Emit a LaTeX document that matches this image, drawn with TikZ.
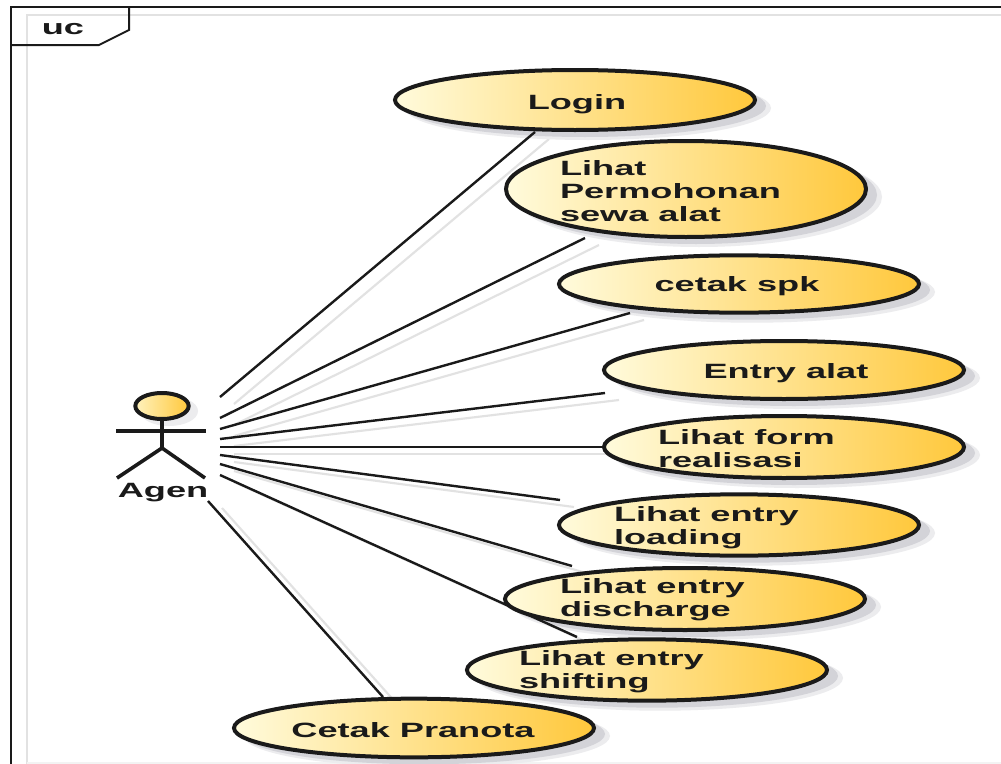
\documentclass[tikz,border=0pt]{standalone}
\usepackage{fontspec}
\usetikzlibrary{shapes.geometric}
\newfontfamily\ucfont[FakeStretch=1.75]{Liberation Sans}
\definecolor{ink}{HTML}{1A1A1A}
\definecolor{lightend}{HTML}{FFFBDC}
\definecolor{midend}{HTML}{FFE48E}
\definecolor{darkend}{HTML}{FFC83C}
\definecolor{shadowa}{HTML}{D3D3D8}
\definecolor{shadowb}{HTML}{ECECEE}
\definecolor{ghostc}{HTML}{E2E2E2}
\definecolor{faintc}{HTML}{F3F3F3}
\pgfdeclarelayer{back}
\pgfsetlayers{back,main}
\tikzset{
  usecase/.style={ellipse,draw=ink,line width=3pt,left color=lightend,middle color=midend,right color=darkend,
    minimum width=270pt,inner sep=0pt,outer sep=0pt},
  lab/.style={font=\ucfont\bfseries\fontsize{15.5}{17.3}\selectfont,text=ink,inner sep=0pt,outer sep=0pt,align=left},
  one/.style={lab,anchor=base,align=center},
  assoc/.style={draw=ink,line width=1.8pt},
  ghost/.style={draw=ghostc,line width=1.6pt},
  stick/.style={draw=ink,line width=2.7pt},
  frame/.style={draw=ink,line width=1.5pt},
  frameshade/.style={draw=ghostc,line width=1.5pt}
}
\begin{document}
\begin{tikzpicture}[x=0.75pt,y=-0.75pt]
\useasboundingbox (0,0) rectangle (1001,764);

% use cases
\node[usecase,minimum height=45pt] (login) at (575,100) {};
\node[usecase,minimum height=72pt] (perm) at (686,189) {};
\node[usecase,minimum height=43pt] (cetak) at (739,284) {};
\node[usecase,minimum height=43.5pt] (entry) at (784,370) {};
\node[usecase,minimum height=46.5pt] (form) at (784,447) {};
\node[usecase,minimum height=46pt] (loading) at (739,525) {};
\node[usecase,minimum height=46.5pt] (discharge) at (685,599) {};
\node[usecase,minimum height=46pt] (shifting) at (647,670) {};
\node[usecase,minimum height=44pt] (pranota) at (414,728) {};

% labels
\node[one] (tlogin) at (577,109) {Login};
\node[lab,anchor=west] (tperm) at (560,191) {Lihat\\Permohonan\\sewa alat};
\node[one] (tcetak) at (737,291) {cetak spk};
\node[one] (tentry) at (786,378) {Entry alat};
\node[lab,anchor=west] (tform) at (658,449) {Lihat form\\realisasi};
\node[lab,anchor=west] (tloading) at (614,528) {Lihat entry\\loading};
\node[lab,anchor=west] (tdischarge) at (560,600) {Lihat entry\\discharge};
\node[lab,anchor=west] (tshifting) at (519,672) {Lihat entry\\shifting};
\node[one] (tpranota) at (413,737) {Cetak Pranota};

% actor
\node[one] (agen) at (163,497) {Agen};
\node[ellipse,draw=ink,line width=3pt,left color=lightend!60!midend,right color=darkend,
      minimum width=40pt,minimum height=19.5pt,inner sep=0pt,outer sep=0pt] (head) at (162,406) {};
\coordinate (armL) at (116,431);
\coordinate (armR) at (206,431);
\coordinate (hip) at (162,448);
\coordinate (footL) at (117,478);
\coordinate (footR) at (205,478);
\draw[stick] (head) -- (hip);
\draw[stick] (armL) -- (armR);
\draw[stick] (footL) -- (hip) -- (footR);

% actor-side connector ends
\coordinate (a1) at (220,397);
\coordinate (a2) at (220,418);
\coordinate (a3) at (220,429);
\coordinate (a4) at (220,439);
\coordinate (a5) at (220,447);
\coordinate (a6) at (220,455);
\coordinate (a7) at (220,464);
\coordinate (a8) at (220,475);
\coordinate (a9) at (208,501);

\begin{pgfonlayer}{back}
  \fill[white] (0,0) rectangle (1001,764);
  % frame
  \draw[frameshade] (1001,15) -- (27,15) -- (27,764);
  \draw[faintc,line width=1.5pt] (27,763) -- (1001,763);
  \draw[frame] (1001,7) -- (11,7) -- (11,764);
  \draw[frame] (11,45) -- (99,45) -- (129,30) -- (129,7);
  % ghost connectors
  \foreach \a/\n/\dx/\dy in {a1/login/-40/32,a2/perm/-101/49,a3/cetak/-109/29,a4/entry/-179/23,
      a5/form/-182/0,a6/loading/-179/-25,a7/discharge/-113/-33,a8/shifting/-70/-33,a9/pranota/-31/-31}{
    \draw[ghost] ([shift={(14,7)}]\a) -- ([shift={(14+\dx,7+\dy)}]\n.center);
  }
  % soft shadows
  \fill[shadowb] ([shift={(7,5)}]head.center) ellipse [x radius=29,y radius=15];
  \foreach \n/\r in {login/30,perm/48,cetak/28.7,entry/29,form/31,loading/30.7,discharge/31,shifting/30.7,pranota/29.3}{
    \fill[shadowb] ([shift={(13,8)}]\n.center) ellipse [x radius=183,y radius=\r+2];
    \fill[shadowa] ([shift={(10,6)}]\n.center) ellipse [x radius=181,y radius=\r+1];
  }
  % connectors
  \foreach \a/\n/\dx/\dy in {a1/login/-40/32,a2/perm/-101/49,a3/cetak/-109/29,a4/entry/-179/23,
      a5/form/-182/0,a6/loading/-179/-25,a7/discharge/-113/-33,a8/shifting/-70/-33,a9/pranota/-31/-31}{
    \draw[assoc] (\a) -- ([shift={(\dx,\dy)}]\n.center);
  }
\end{pgfonlayer}
\node[one] (uc) at (63,34) {uc};
\end{tikzpicture}
\end{document}
